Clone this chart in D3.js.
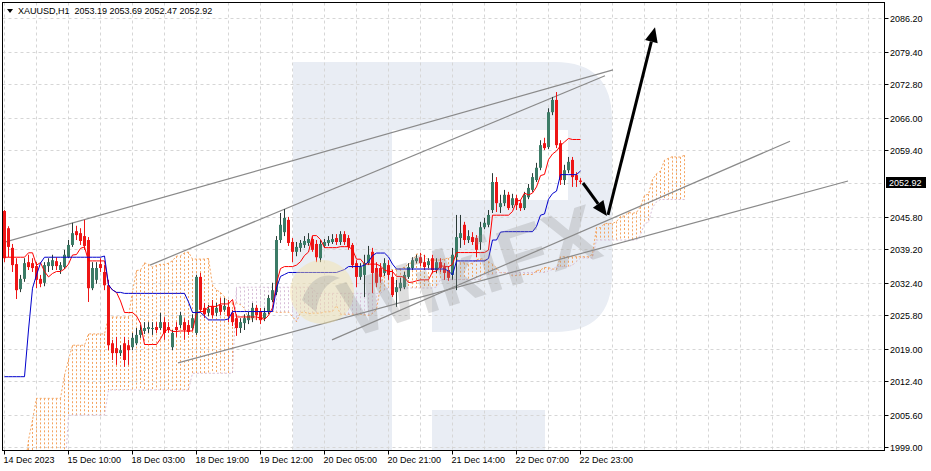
<!DOCTYPE html>
<html><head><meta charset="utf-8">
<script src="https://cdn.jsdelivr.net/npm/d3@7"></script>
<style>
html,body{margin:0;padding:0;background:#fff;}
svg{display:block;font-family:"Liberation Sans",Arial,sans-serif;}
</style></head><body>
<svg id="c" width="931" height="471"></svg>
<script>
// ---------- data (XAUUSD H1) ----------
const symbol = "XAUUSD,H1";
const lastOHLC = [2053.19, 2053.69, 2052.47, 2052.92];
const timeLabels = ["14 Dec 2023","15 Dec 10:00","18 Dec 03:00","18 Dec 19:00","19 Dec 12:00","20 Dec 05:00","20 Dec 21:00","21 Dec 14:00","22 Dec 07:00","22 Dec 23:00"];
const timeLabelBars = [0,16,32,48,64,80,96,112,128,144];
const priceTicks = [2086.20,2079.40,2072.80,2066.00,2059.40,2052.60,2045.80,2039.20,2032.40,2025.80,2019.00,2012.40,2005.60,1999.00];

const opens = [2047.0,2043.5,2039.5,2036.2,2031.1,2033.2,2036.6,2036.4,2035.8,2033.2,2032.4,2035.8,2035.8,2036.8,2035.0,2035.6,2037.6,2040.1,2042.9,2042.5,2041.9,2041.1,2031.3,2033.0,2036.2,2034.6,2031.9,2020.1,2019.1,2018.1,2020.1,2019.7,2019.3,2020.1,2021.8,2022.6,2023.0,2023.0,2023.4,2023.2,2024.4,2023.4,2019.3,2023.4,2023.8,2024.4,2023.8,2023.2,2022.2,2033.6,2027.3,2026.3,2027.7,2026.3,2027.9,2026.9,2027.5,2026.3,2025.2,2023.2,2024.2,2024.8,2025.2,2027.3,2026.5,2025.2,2026.5,2028.9,2030.5,2041.1,2042.7,2045.2,2040.7,2038.7,2039.5,2040.1,2040.5,2041.3,2040.3,2037.4,2039.9,2040.5,2040.7,2041.5,2040.7,2042.3,2041.5,2040.1,2036.4,2033.6,2034.0,2036.4,2038.7,2035.4,2035.4,2034.4,2036.0,2033.6,2030.5,2031.3,2031.5,2033.6,2035.4,2036.8,2037.6,2036.6,2036.0,2037.4,2035.0,2036.6,2035.6,2035.0,2034.0,2037.6,2041.5,2044.2,2041.1,2041.7,2041.5,2040.7,2043.7,2044.2,2047.2,2052.9,2047.8,2048.6,2050.3,2048.2,2049.6,2048.6,2047.6,2049.8,2051.3,2053.3,2055.8,2060.8,2060.0,2067.1,2069.6,2060.8,2053.3,2055.3,2057.4,2054.3,2053.19];
const highs = [2047.2,2043.9,2040.3,2037.4,2034.0,2037.4,2038.1,2037.4,2036.6,2034.0,2036.6,2037.4,2038.1,2037.6,2036.6,2039.1,2041.1,2044.6,2044.0,2043.5,2045.2,2041.7,2036.6,2036.6,2037.4,2036.0,2033.0,2020.8,2021.4,2019.7,2021.4,2020.8,2022.2,2023.2,2023.8,2024.4,2024.4,2024.4,2024.4,2026.3,2025.4,2024.4,2022.8,2024.4,2026.5,2025.2,2024.8,2026.0,2034.0,2034.4,2028.3,2027.9,2028.9,2028.3,2029.3,2029.3,2028.9,2026.9,2026.0,2025.2,2026.0,2026.5,2028.3,2027.9,2027.3,2027.3,2029.9,2032.4,2041.9,2046.6,2047.4,2045.8,2041.5,2040.7,2041.1,2041.9,2042.5,2041.9,2041.1,2041.1,2041.3,2041.9,2042.3,2042.3,2042.9,2042.9,2042.1,2040.5,2037.0,2036.4,2038.1,2039.9,2039.5,2036.6,2036.4,2037.4,2037.0,2035.0,2033.0,2033.4,2034.6,2036.4,2037.6,2038.1,2038.5,2038.1,2037.4,2038.1,2037.4,2037.4,2036.4,2035.8,2039.5,2046.2,2046.2,2044.8,2043.1,2042.7,2042.1,2044.8,2045.6,2047.2,2054.7,2053.9,2050.3,2051.3,2050.9,2050.5,2050.3,2049.2,2050.9,2052.5,2054.7,2056.8,2061.4,2061.9,2067.9,2070.2,2071.2,2061.4,2056.4,2058.0,2058.0,2054.9,2053.69];
const lows = [2036.6,2037.6,2034.6,2029.1,2030.5,2032.6,2035.0,2034.6,2031.3,2031.5,2031.7,2034.6,2035.0,2035.0,2034.2,2035.2,2037.4,2039.7,2041.1,2040.1,2039.1,2028.5,2030.9,2032.2,2034.6,2030.9,2018.7,2016.7,2015.7,2017.5,2015.3,2015.7,2018.7,2019.7,2021.2,2022.0,2022.2,2021.8,2022.2,2022.8,2020.8,2022.2,2018.7,2021.4,2023.2,2020.8,2021.8,2022.8,2021.8,2026.5,2025.2,2025.6,2025.2,2025.6,2025.8,2026.5,2024.4,2023.6,2021.6,2022.2,2022.8,2024.0,2024.4,2024.8,2024.0,2024.6,2026.0,2028.5,2029.9,2040.5,2041.9,2039.9,2036.6,2037.8,2038.7,2039.5,2039.9,2038.7,2036.6,2036.6,2039.5,2039.9,2040.3,2040.1,2040.1,2040.1,2039.1,2035.4,2031.5,2033.0,2029.5,2036.0,2030.3,2031.5,2032.4,2033.8,2033.0,2029.5,2027.5,2030.7,2031.1,2033.2,2035.0,2036.4,2035.8,2035.0,2035.4,2034.4,2034.4,2034.6,2033.0,2032.8,2033.0,2030.9,2039.5,2040.1,2040.5,2040.1,2037.6,2039.1,2043.3,2043.7,2046.6,2046.8,2046.6,2048.0,2047.2,2047.6,2047.2,2047.0,2047.2,2049.4,2050.9,2052.9,2055.3,2059.4,2059.6,2066.5,2059.8,2052.3,2052.3,2054.7,2051.9,2051.9,2052.47];
const closes = [2037.4,2039.7,2036.0,2030.9,2033.2,2036.4,2035.6,2035.4,2033.0,2032.2,2036.0,2036.6,2037.0,2035.8,2036.0,2038.1,2040.1,2042.5,2042.1,2040.9,2039.9,2031.3,2035.4,2035.4,2035.4,2031.9,2019.7,2018.1,2018.1,2018.7,2016.7,2018.7,2021.2,2021.8,2022.8,2023.2,2023.4,2023.2,2022.8,2024.4,2022.2,2022.8,2022.2,2022.8,2025.8,2022.8,2022.4,2025.2,2033.6,2026.9,2026.0,2027.1,2025.8,2027.3,2026.5,2027.7,2025.6,2024.4,2023.2,2024.4,2025.2,2025.8,2027.3,2025.8,2024.8,2026.3,2029.3,2030.9,2041.1,2044.2,2045.6,2040.5,2038.7,2039.7,2040.5,2040.9,2041.3,2039.1,2037.6,2040.3,2040.7,2041.1,2041.3,2040.7,2042.3,2040.7,2039.7,2036.0,2033.6,2035.6,2036.4,2038.1,2034.4,2032.4,2033.6,2036.4,2034.0,2029.9,2031.5,2032.4,2034.0,2035.6,2037.0,2037.4,2036.4,2035.6,2036.8,2035.0,2036.6,2035.4,2034.4,2033.4,2038.1,2041.7,2042.5,2041.1,2041.9,2040.7,2039.1,2043.7,2044.6,2046.2,2052.9,2048.6,2048.6,2050.3,2047.6,2049.6,2048.2,2047.6,2050.3,2051.7,2053.9,2055.8,2060.4,2059.8,2067.1,2069.6,2060.4,2053.3,2055.3,2057.0,2053.9,2053.3,2052.92];

// Ichimoku values before the visible history
const tenkanEarly = [2037.6,2037.6,2037.6,2037.6,2037.6,2037.6,2038.5,2038.5,2036.0];
const kijunEarly = [2013.3,2013.3,2013.3,2013.3,2013.3,2013.3,2022.8,2031.3,2034.0,2036.4,2037.6,2037.6,2037.6,2037.6,2037.6,2037.6,2037.6,2037.6,2037.6,2037.6,2037.6,2037.6,2037.6,2037.6,2037.6];
const spanAEarly = [1994.3,1994.3,1994.3,1994.3,1994.3,1994.3,2000.4,2004.5,2008.9,2008.9,2008.9,2008.9,2008.9,2008.9,2008.9,2013.6,2016.7,2019.7,2019.7,2019.7,2019.7,2022.0,2022.0,2022.0,2022.0,2022.0];
const spanBEarly = [1992.3,1992.3,1992.3,1992.3,1992.3,1992.3,1992.3,1992.3,1992.3,1992.3,1992.3,1992.3,1992.3,1992.3,1992.3,1992.3,
 2005.5,2005.5,2005.5,2005.5,2005.5,2005.5,2005.5,2005.5,2005.5,2005.5,
 2010.6,2010.6,2010.6,2010.6,2010.6,2010.6,2010.6,2010.6,2010.6,2010.6,2010.6,2010.6,2010.6,2010.6,2010.6,2010.6,2010.6,2010.6,2010.6,2010.6,2010.6,
 2014.0,2014.0,2014.0,2014.0,2014.0,2014.0,2014.0,2014.0,2014.0,2014.0,2014.0,
 2031.5,2031.5,2031.5,2031.5,2031.5,2031.5,2031.5,2031.5,2031.5,2031.5,2031.5,2031.5,2031.5,2031.5,2031.5,2031.5,2031.5,2031.5,2031.5];

// annotations: [bar, price]
const trendLines = [
  [[-0.5,2040.5],[152.25,2075.7]],
  [[36.5,2036.0],[150.25,2074.5]],
  [[43.5,2016.1],[211,2053.1]],
  [[82,2020.8],[196.5,2061.2]]
];
const arrows = [
  [[144.75,2052.7],[150.75,2046.0]],
  [[151,2046.2],[162.75,2084.4]]
];
const watermarkText = "WikiFX";

// ---------- Ichimoku (9, 26, 52) from the candles ----------
const n = closes.length;
function mid(end, p){ let hi=-Infinity, lo=Infinity; for(let k=end-p+1;k<=end;k++){hi=Math.max(hi,highs[k]);lo=Math.min(lo,lows[k]);} return (hi+lo)/2; }
const tenkan = d3.range(n).map(i => i < tenkanEarly.length ? tenkanEarly[i] : mid(i,9));
const kijun = d3.range(n).map(i => i < kijunEarly.length ? kijunEarly[i] : mid(i,26));
const cloudN = n + 26;
const spanA = d3.range(cloudN).map(j => j < spanAEarly.length ? spanAEarly[j] : (tenkan[j-26]+kijun[j-26])/2);
const spanB = d3.range(cloudN).map(j => j < spanBEarly.length ? spanBEarly[j] : mid(j-26,52));

// ---------- layout ----------
const svg = d3.select("#c");
const L=2.5, T=2.5, R=884.5, B=450.5;
const x = d3.scaleLinear().domain([0,220]).range([4,884]);
const y = d3.scaleLinear().domain([1999.0,2086.2]).range([447,18.3]);
const px = i => Math.round(x(i));

svg.append("rect").attr("width",931).attr("height",471).attr("fill","#fff");
svg.append("defs").append("clipPath").attr("id","plot").append("rect")
  .attr("x",L).attr("y",T).attr("width",R-L).attr("height",B-T);

// RoboForex-like "R" watermark (background)
const wm = svg.append("g").attr("clip-path","url(#plot)").attr("fill","#e9edf4");
wm.append("rect").attr("x",293).attr("y",62).attr("width",99).attr("height",420);
wm.append("path").attr("d","M392,62 H555 Q612,62 612,120 V275 Q612,332 555,332 H432 V200 H568 V130 H392 Z");
wm.append("rect").attr("x",432).attr("y",410).attr("width",113).attr("height",70);

const g = svg.append("g").attr("clip-path","url(#plot)");

// grid
g.append("g").selectAll("line").data(priceTicks).join("line")
  .attr("x1",L).attr("x2",R).attr("y1",d=>Math.round(y(d))+0.5).attr("y2",d=>Math.round(y(d))+0.5)
  .attr("stroke","#d6d6d6").attr("stroke-dasharray","3,3");
g.append("g").selectAll("line").data(d3.range(0,221,8)).join("line")
  .attr("x1",d=>px(d)+0.5).attr("x2",d=>px(d)+0.5).attr("y1",T).attr("y2",B)
  .attr("stroke","#d6d6d6").attr("stroke-dasharray","3,3");

// cloud histogram (dotted verticals)
const UP="#F4A460", DN="#D8BFD8";
g.append("g").selectAll("line").data(d3.range(cloudN)).join("line")
  .attr("x1",j=>px(j)+0.5).attr("x2",j=>px(j)+0.5)
  .attr("y1",j=>y(spanA[j])).attr("y2",j=>y(spanB[j]))
  .attr("stroke",j=>spanA[j]>=spanB[j]?UP:DN).attr("stroke-dasharray","2,2");
const lineGen = arr => d3.line().x((d,i)=>px(i)+0.5).y(d=>y(d))(arr);
g.append("path").attr("d",lineGen(spanA)).attr("fill","none").attr("stroke",UP).attr("stroke-dasharray","2,2");
g.append("path").attr("d",lineGen(spanB)).attr("fill","none").attr("stroke",DN).attr("stroke-dasharray","2,2");

// trend lines
g.append("g").selectAll("line").data(trendLines).join("line")
  .attr("x1",d=>x(d[0][0])).attr("y1",d=>y(d[0][1])).attr("x2",d=>x(d[1][0])).attr("y2",d=>y(d[1][1]))
  .attr("stroke","#8a8a8a").attr("stroke-width",1.2);

// candles
const BULL="#3b7b66", BEAR="#ee1515";
const cg = g.append("g");
d3.range(n).forEach(i=>{
  const up = closes[i] >= opens[i];
  const cx = px(i);
  cg.append("line").attr("x1",cx+0.5).attr("x2",cx+0.5).attr("y1",y(highs[i])).attr("y2",y(lows[i]))
    .attr("stroke", up ? "#2b3b36" : BEAR);
  const top = y(Math.max(opens[i],closes[i])), bot = y(Math.min(opens[i],closes[i]));
  cg.append("rect").attr("x",cx-1).attr("width",3).attr("y",top).attr("height",Math.max(1,bot-top))
    .attr("fill", up ? BULL : BEAR);
});

// tenkan / kijun
g.append("path").attr("d",lineGen(tenkan)).attr("fill","none").attr("stroke","#ff0000").attr("stroke-width",1);
g.append("path").attr("d",lineGen(kijun)).attr("fill","none").attr("stroke","#0000cc").attr("stroke-width",1);

// WikiFX watermark
const wf = svg.append("g").attr("clip-path","url(#plot)");
[[322,292],[936,297]].forEach(c=>{
  wf.append("circle").attr("cx",c[0]).attr("cy",c[1]).attr("r",32).attr("fill","#f3e3a6").attr("opacity",0.45);
  wf.append("path").attr("d",`M${c[0]-20},${c[1]+8} Q${c[0]-8},${c[1]-24} ${c[0]+18},${c[1]-14} Q${c[0]-2},${c[1]-8} ${c[0]-6},${c[1]+20} Z`)
    .attr("fill","#a0a0a0").attr("opacity",0.35);
});
wf.append("text").attr("transform","translate(352,338) rotate(-18)").attr("font-size",80).attr("font-weight","bold")
  .attr("fill","#8c8c8c").attr("opacity",0.28).text(watermarkText);

// arrows
const ag = svg.append("g").attr("clip-path","url(#plot)");
arrows.forEach(a=>{
  const x1=x(a[0][0]), y1=y(a[0][1]), x2=x(a[1][0]), y2=y(a[1][1]);
  const ang=Math.atan2(y2-y1,x2-x1), hl=15, hw=6.5;
  const bx=x2-hl*Math.cos(ang), by=y2-hl*Math.sin(ang);
  ag.append("line").attr("x1",x1).attr("y1",y1).attr("x2",bx).attr("y2",by).attr("stroke","#000").attr("stroke-width",3);
  ag.append("path").attr("d",`M${x2},${y2} L${bx-hw*Math.sin(ang)},${by+hw*Math.cos(ang)} L${bx+hw*Math.sin(ang)},${by-hw*Math.cos(ang)} Z`).attr("fill","#000");
});

// frame
svg.append("rect").attr("x",L).attr("y",T).attr("width",R-L).attr("height",B-T).attr("fill","none").attr("stroke","#000");

// price axis
const ax = svg.append("g").attr("font-size",9).attr("fill","#000");
priceTicks.filter(d=>d!==2052.60).forEach(d=>{
  const yy=Math.round(y(d))+0.5;
  ax.append("line").attr("x1",R).attr("x2",R+4).attr("y1",yy).attr("y2",yy).attr("stroke","#000");
  ax.append("text").attr("x",890).attr("y",yy+3.2).text(d.toFixed(2));
});
const yc = Math.round(y(lastOHLC[3]));
ax.append("rect").attr("x",886).attr("y",yc-5).attr("width",40).attr("height",11).attr("fill","#000");
ax.append("text").attr("x",889).attr("y",yc+3.5).attr("fill","#fff").text(lastOHLC[3].toFixed(2));

// time axis
timeLabels.forEach((t,k)=>{
  const xx = px(timeLabelBars[k])+0.5;
  ax.append("line").attr("x1",xx).attr("x2",xx).attr("y1",B).attr("y2",B+4).attr("stroke","#000");
  ax.append("text").attr("x",xx-1).attr("y",463).text(t);
});

// header
svg.append("path").attr("d","M7,9 L13,9 L10,13 Z").attr("fill","#000");
svg.append("text").attr("x",18).attr("y",14).attr("font-size",9).attr("fill","#000")
  .attr("xml:space","preserve").text(symbol + "  " + lastOHLC.map(v=>v.toFixed(2)).join(" "));
</script>
</body></html>
